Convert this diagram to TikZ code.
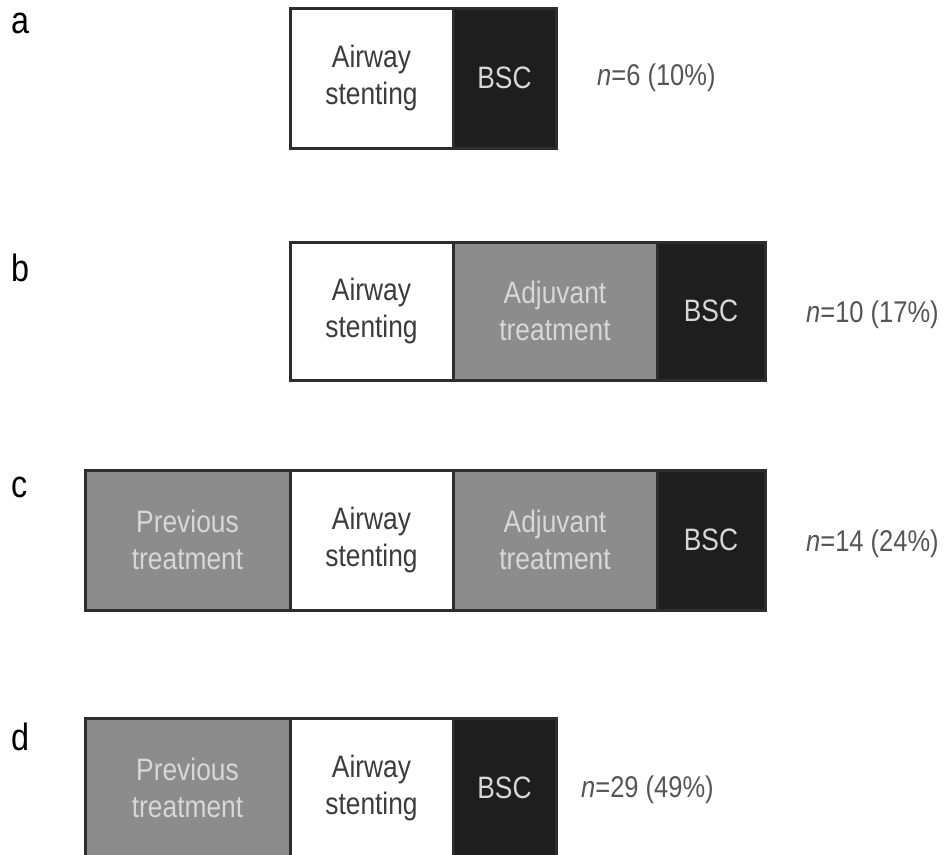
\documentclass[tikz,border=0pt]{standalone}
\usepackage{fontspec}
\setmainfont{Liberation Sans}[FakeStretch=0.85]
\usepackage{tikz}
\usetikzlibrary{positioning}

\definecolor{cellgrey}{RGB}{140,140,140}
\definecolor{cellblack}{RGB}{30,30,30}
\definecolor{rim}{RGB}{45,45,45}
\definecolor{darktext}{RGB}{60,60,60}
\definecolor{lighttext}{RGB}{215,215,215}
\definecolor{counttext}{RGB}{85,85,85}

\begin{document}
\begin{tikzpicture}[x=1pt,y=1pt,yscale=-1,
  cell/.style={draw=rim,line width=3pt,rectangle,align=center,inner sep=0pt,
    minimum height=140pt,font=\fontsize{31}{37}\selectfont},
  whitecell/.style={cell,fill=white,text=darktext},
  greycell/.style={cell,fill=cellgrey,text=lighttext},
  blackcell/.style={cell,fill=cellblack,text=lighttext},
  count/.style={anchor=west,inner sep=0pt,text=counttext,font=\fontsize{30}{36}\selectfont},
  panel/.style={anchor=base west,inner sep=0pt,text=black,font=\fontsize{38}{44}\selectfont}]
\useasboundingbox (0,0) rectangle (944,854);

% Panel a
\node [panel] (la) at (11,33) {a};
\node [whitecell,minimum width=163pt] (a1) at (371.5,78) {Airway\\stenting};
\node [blackcell,minimum width=103pt] (a2) at (504.5,78) {BSC};
\node [count] (na) at (597,78) {\textit{n}=6 (10\%)};

% Panel b
\node [panel] (lb) at (11,281) {b};
\node [whitecell,minimum width=163pt,minimum height=138pt] (b1) at (371.5,311) {Airway\\stenting};
\node [greycell,minimum width=204pt,minimum height=138pt] (b2) at (555,311) {Adjuvant\\treatment};
\node [blackcell,minimum width=108pt,minimum height=138pt] (b3) at (711,311) {BSC};
\node [count] (nb) at (806,315) {\textit{n}=10 (17\%)};

% Panel c
\node [panel] (lc) at (11,497) {c};
\node [greycell,minimum width=205pt] (c1) at (187.5,540) {Previous\\treatment};
\node [whitecell,minimum width=163pt] (c2) at (371.5,540) {Airway\\stenting};
\node [greycell,minimum width=204pt] (c3) at (555,540) {Adjuvant\\treatment};
\node [blackcell,minimum width=108pt] (c4) at (711,540) {BSC};
\node [count] (nc) at (806,544) {\textit{n}=14 (24\%)};

% Panel d
\node [panel] (ld) at (11,750) {d};
\node [greycell,minimum width=205pt] (d1) at (187.5,788) {Previous\\treatment};
\node [whitecell,minimum width=163pt] (d2) at (371.5,788) {Airway\\stenting};
\node [blackcell,minimum width=103pt] (d3) at (504.5,788) {BSC};
\node [count] (nd) at (581,790) {\textit{n}=29 (49\%)};

\end{tikzpicture}
\end{document}
